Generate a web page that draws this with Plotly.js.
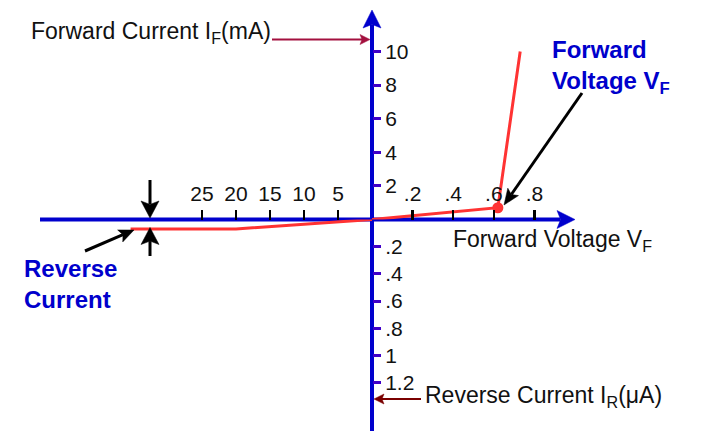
<!DOCTYPE html>
<html>
<head>
<meta charset="utf-8">
<script src="https://cdn.plot.ly/plotly-3.0.1.min.js"></script>
<style>html,body{margin:0;padding:0;background:#fff;}#chart{width:728px;height:441px;}</style>
</head>
<body>
<div id="chart"></div>
<script>
// ---- data ----
var forwardVoltage = [0, 0.62, 0.73];      // V
var forwardCurrent = [0, 0.7, 10];         // mA
var reverseVoltage = [0, 20, 35.5];        // V (reverse)
var reverseCurrent = [0, 0.07, 0.07];      // µA
var kneeVoltage = [0.62];
var kneeCurrent = [0.7];

var fwdVTicks = [0.2, 0.4, 0.6, 0.8];
var fwdVLabels = ['.2', '.4', '.6', '.8'];
var revVTicks = [5, 10, 15, 20, 25];
var revVLabels = ['5', '10', '15', '20', '25'];
var fwdITicks = [2, 4, 6, 8, 10];
var fwdILabels = ['2', '4', '6', '8', '10'];
var revITicks = [0.2, 0.4, 0.6, 0.8, 1, 1.2];
var revILabels = ['.2', '.4', '.6', '.8', '1', '1.2'];

// ---- geometry ----
var W = 728, H = 441;
var OX = 372, OY = 219.5;           // origin in pixels
var pxPerVf = 203, pxPerVr = 6.8, pxPerMA = 16.8, pxPerUA = 136;
function px(x){ return x / W; }
function py(y){ return 1 - y / H; }

var FONT = 'Liberation Sans, Arial, sans-serif';
var BLUE = '#0000cd', TICKPURPLE = '#4000c8', RED = '#ff3333';

var traces = [
  {x: forwardVoltage, y: forwardCurrent, xaxis: 'x', yaxis: 'y', mode: 'lines',
   line: {color: RED, width: 3}, hoverinfo: 'skip'},
  {x: reverseVoltage, y: reverseCurrent, xaxis: 'x2', yaxis: 'y2', mode: 'lines',
   line: {color: RED, width: 3}, hoverinfo: 'skip'},
  {x: kneeVoltage, y: kneeCurrent, xaxis: 'x', yaxis: 'y', mode: 'markers',
   marker: {color: RED, size: 11}, hoverinfo: 'skip'}
];

var tickFont = {family: FONT, size: 21, color: '#111'};
var commonX = {showgrid: false, zeroline: false, showline: false, ticks: 'outside',
  side: 'top', anchor: 'free', position: py(OY), automargin: false, fixedrange: true,
  tickfont: tickFont, tickcolor: '#000', tickwidth: 2.5, ticklen: 10, tickmode: 'array'};
var commonY = {showgrid: false, zeroline: false, showline: false, ticks: 'outside',
  side: 'right', anchor: 'free', position: px(OX), automargin: false, fixedrange: true,
  tickfont: tickFont, tickcolor: TICKPURPLE, tickwidth: 3, ticklen: 8, tickmode: 'array'};

// arrow drawn as a line shape plus a filled head (pixel inputs -> paper coords)
function arrowShapes(hx, hy, tx, ty, color, lw, L, Wd, layer){
  var dx = hx - tx, dy = hy - ty, len = Math.sqrt(dx*dx + dy*dy);
  var ux = dx/len, uy = dy/len, nx = -uy, ny = ux;
  var bx = hx - L*ux, by = hy - L*uy;
  var mx = hx - 0.8*L*ux, my = hy - 0.8*L*uy;
  var p1x = bx + Wd/2*nx, p1y = by + Wd/2*ny;
  var p2x = bx - Wd/2*nx, p2y = by - Wd/2*ny;
  var path = 'M' + px(hx) + ',' + py(hy) + ' L' + px(p1x) + ',' + py(p1y) +
    ' L' + px(mx) + ',' + py(my) + ' L' + px(p2x) + ',' + py(p2y) + ' Z';
  return [
    {type: 'line', layer: layer || 'above', xref: 'paper', yref: 'paper',
     x0: px(tx), y0: py(ty), x1: px(mx), y1: py(my), line: {color: color, width: lw}},
    {type: 'path', layer: layer || 'above', xref: 'paper', yref: 'paper', path: path,
     fillcolor: color, line: {color: color, width: 0.5}}
  ];
}
function label(x, y, text, opts){
  var a = {xref: 'paper', yref: 'paper', x: px(x), y: py(y), text: text, showarrow: false,
    xanchor: 'left', yanchor: 'middle', align: 'left',
    font: {family: FONT, size: 23, color: '#111'}};
  for (var k in opts) a[k] = opts[k];
  return a;
}

var shapes = [].concat(
  arrowShapes(OX, 10, OX, 431, BLUE, 4, 18, 18, 'below'),
  arrowShapes(575, OY, 40, OY, BLUE, 4, 18, 18, 'below'),
  arrowShapes(370, 39.5, 272, 39.5, '#a3103f', 2, 10, 10),
  arrowShapes(374, 399, 421, 399, '#7a0000', 2, 10, 10),
  arrowShapes(504, 205, 582, 93, '#000', 3, 16, 13),
  arrowShapes(134, 230, 85, 251, '#000', 3, 15, 13),
  arrowShapes(150, 218, 150, 180, '#000', 3, 17, 18),
  arrowShapes(150, 227.5, 150, 256, '#000', 3, 17, 18)
);

var layout = {
  width: W, height: H,
  margin: {l: 0, r: 0, t: 0, b: 0},
  paper_bgcolor: '#fff', plot_bgcolor: 'rgba(0,0,0,0)',
  showlegend: false, hovermode: false,
  xaxis: Object.assign({}, commonX, {domain: [px(OX), 1], range: [0, (W - OX) / pxPerVf],
    tickvals: fwdVTicks, ticktext: fwdVLabels}),
  xaxis2: Object.assign({}, commonX, {domain: [0, px(OX)], range: [OX / pxPerVr, 0],
    tickvals: revVTicks, ticktext: revVLabels}),
  yaxis: Object.assign({}, commonY, {domain: [py(OY), 1], range: [0, OY / pxPerMA],
    tickvals: fwdITicks, ticktext: fwdILabels}),
  yaxis2: Object.assign({}, commonY, {domain: [0, py(OY)], range: [(H - OY) / pxPerUA, 0],
    tickvals: revITicks, ticktext: revILabels}),
  shapes: shapes,
  annotations: [
    label(29, 32, 'Forward Current I<sub>F</sub>(mA)'),
    label(451, 240, 'Forward Voltage V<sub>F</sub>'),
    label(423, 396, 'Reverse Current I<sub>R</sub>(μA)'),
    label(550, 67, '<b>Forward</b><br><b>Voltage V<sub>F</sub></b>',
      {font: {family: FONT, size: 24, color: '#0000cc'}}),
    label(22, 283.5, '<b>Reverse</b><br><b>Current</b>',
      {font: {family: FONT, size: 24, color: '#0000cc'}})
  ]
};

Plotly.newPlot('chart', traces, layout, {displayModeBar: false, staticPlot: true});
</script>
</body>
</html>
